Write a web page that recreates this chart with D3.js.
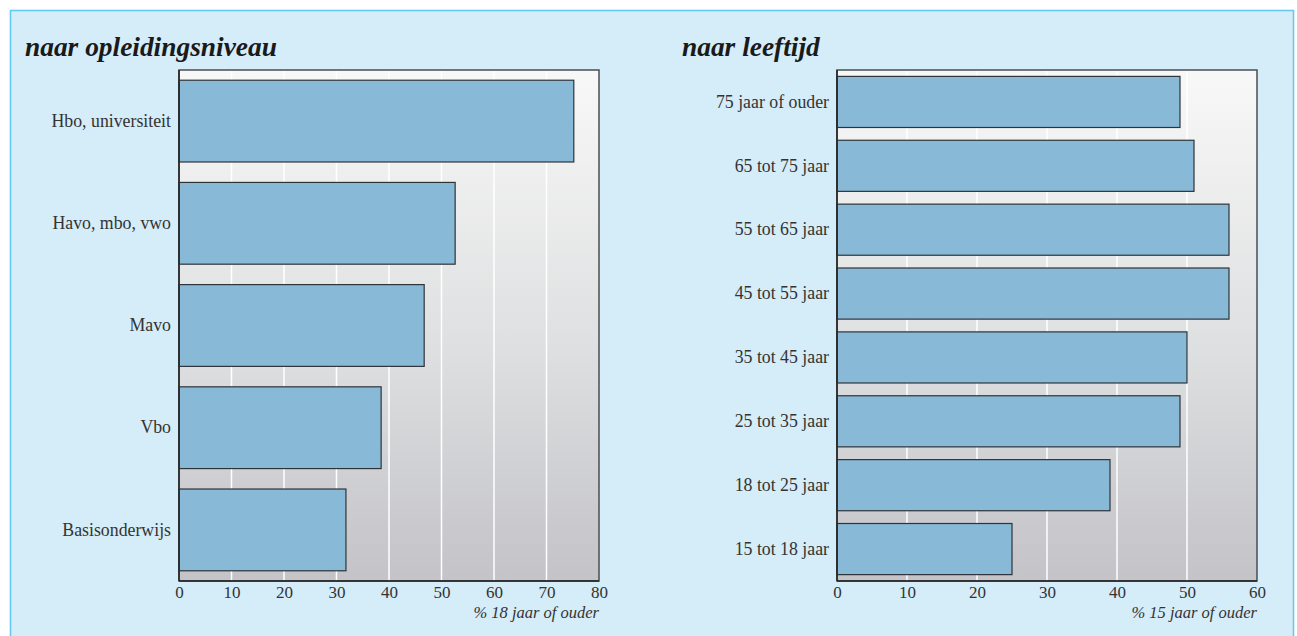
<!DOCTYPE html>
<html><head><meta charset="utf-8">
<script src="https://cdn.jsdelivr.net/npm/d3@7/dist/d3.min.js"></script>
<style>
html,body{margin:0;padding:0;background:#fff;}
svg{display:block;}
</style></head>
<body>
<svg id="c" width="1297" height="636"></svg>
<script>
const eduCategories = ["Hbo, universiteit","Havo, mbo, vwo","Mavo","Vbo","Basisonderwijs"];
const eduValues = [75.2, 52.6, 46.7, 38.5, 31.8];
const eduTicks = [0,10,20,30,40,50,60,70,80];
const ageCategories = ["75 jaar of ouder","65 tot 75 jaar","55 tot 65 jaar","45 tot 55 jaar","35 tot 45 jaar","25 tot 35 jaar","18 tot 25 jaar","15 tot 18 jaar"];
const ageValues = [49, 51, 56, 56, 50, 49, 39, 25];
const ageTicks = [0,10,20,30,40,50,60];

const svg = d3.select("#c");
const FONT = "'Liberation Serif','DejaVu Serif',serif";

svg.append("rect").attr("x",10.5).attr("y",10.5).attr("width",1283).attr("height",640)
  .attr("fill","#d5ecf9").attr("stroke","#62c6ef").attr("stroke-width",1.5);

const defs = svg.append("defs");
const grad = defs.append("linearGradient").attr("id","bg").attr("x1",0).attr("y1",0).attr("x2",0).attr("y2",1);
grad.append("stop").attr("offset","0%").attr("stop-color","#f8f8f8");
grad.append("stop").attr("offset","55%").attr("stop-color","#dedfe0");
grad.append("stop").attr("offset","100%").attr("stop-color","#c3c3c8");

function panel(opt){
  const g = svg.append("g");
  const x = d3.scaleLinear().domain([0, opt.max]).range([opt.x0, opt.x1]);
  const y = d3.scaleBand().domain(opt.cats).range([opt.y0, opt.y1]).paddingInner(0.2).paddingOuter(0.1);
  g.append("text").attr("x",opt.tx).attr("y",56).text(opt.title)
    .attr("font-family",FONT).attr("font-style","italic").attr("font-weight","bold")
    .attr("font-size",27.4).attr("fill","#1a1a1a");
  g.append("rect").attr("x",opt.x0).attr("y",opt.y0).attr("width",opt.x1-opt.x0).attr("height",opt.y1-opt.y0)
    .attr("fill","url(#bg)");
  g.selectAll("line.grid").data(opt.ticks.slice(1,-1)).join("line").attr("class","grid")
    .attr("x1",d=>x(d)).attr("x2",d=>x(d)).attr("y1",opt.y0).attr("y2",opt.y1)
    .attr("stroke","#ffffff").attr("stroke-width",1.5);
  g.selectAll("rect.bar").data(opt.vals).join("rect").attr("class","bar")
    .attr("x",x(0)).attr("y",(d,i)=>y(opt.cats[i]))
    .attr("width",d=>x(d)-x(0)).attr("height",y.bandwidth())
    .attr("fill","#88bad8").attr("stroke","#2e3338").attr("stroke-width",1.2);
  g.append("rect").attr("x",opt.x0).attr("y",opt.y0).attr("width",opt.x1-opt.x0).attr("height",opt.y1-opt.y0)
    .attr("fill","none").attr("stroke","#4a4d52").attr("stroke-width",1.5);
  g.append("line").attr("x1",opt.x0).attr("x2",opt.x0).attr("y1",opt.y0).attr("y2",opt.y1).attr("stroke","#222").attr("stroke-width",1.5);
  g.append("line").attr("x1",opt.x0).attr("x2",opt.x1).attr("y1",opt.y1).attr("y2",opt.y1).attr("stroke","#222").attr("stroke-width",1.5);
  const xa = g.append("g").attr("transform",`translate(0,${opt.y1})`)
    .call(d3.axisBottom(x).tickValues(opt.ticks).tickSize(0).tickPadding(5));
  xa.select(".domain").remove();
  xa.attr("font-family",FONT).attr("font-size",17);
  xa.selectAll("text").attr("font-family",FONT).attr("font-size",17).attr("fill","#333");
  const ya = g.append("g").attr("transform",`translate(${opt.x0},0)`)
    .call(d3.axisLeft(y).tickSize(0).tickPadding(8));
  ya.select(".domain").remove();
  ya.attr("font-family",FONT).attr("font-size",17.8);
  ya.selectAll("text").attr("font-family",FONT).attr("font-size",17.8).attr("fill","#333");
  g.append("text").attr("x",opt.x1).attr("y",opt.y1+37).attr("text-anchor","end").text(opt.xtitle)
    .attr("font-family",FONT).attr("font-style","italic").attr("font-size",16.5).attr("fill","#333");
}

panel({title:"naar opleidingsniveau", tx:25, x0:179, x1:599, y0:70, y1:581, max:80,
  cats:eduCategories, vals:eduValues, ticks:eduTicks, xtitle:"% 18 jaar of ouder"});
panel({title:"naar leeftijd", tx:682, x0:837, x1:1257, y0:70, y1:581, max:60,
  cats:ageCategories, vals:ageValues, ticks:ageTicks, xtitle:"% 15 jaar of ouder"});
</script>
</body></html>
